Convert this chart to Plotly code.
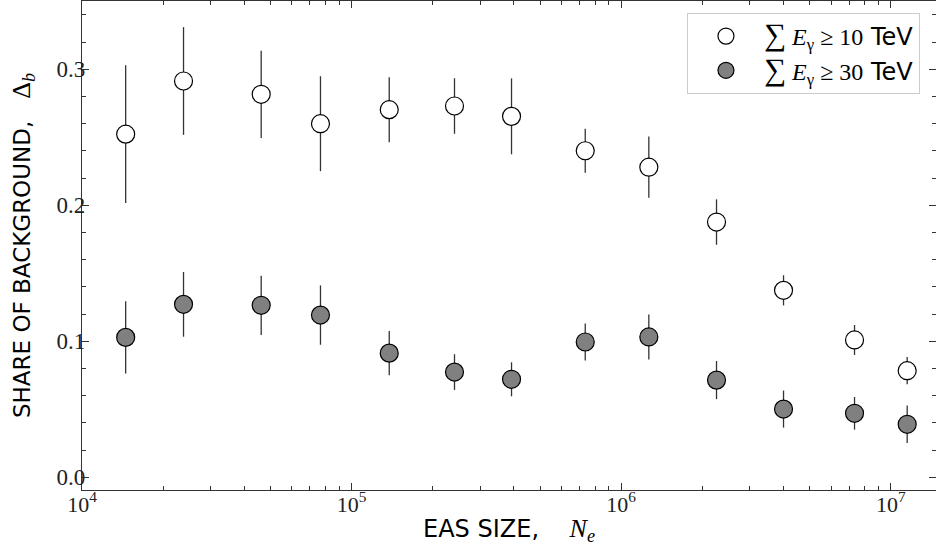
import plotly.graph_objects as go

# EAS size N_e (bin centres)
ne = [1.452e4, 2.38e4, 4.62e4, 7.665e4, 1.379e5, 2.408e5, 3.919e5,
      7.355e5, 1.266e6, 2.257e6, 4.0e6, 7.335e6, 1.15e7]

# share of background, sum E_gamma >= 10 TeV
share10 = [0.2523, 0.2914, 0.2816, 0.2600, 0.2703, 0.2730, 0.2654,
           0.2401, 0.2280, 0.1877, 0.1375, 0.1010, 0.0784]
err10 = [0.0506, 0.0396, 0.0321, 0.0349, 0.0239, 0.0204, 0.0279,
         0.0162, 0.0225, 0.0167, 0.0111, 0.0110, 0.0100]

# share of background, sum E_gamma >= 30 TeV
share30 = [0.1029, 0.1272, 0.1265, 0.1193, 0.0913, 0.0774, 0.0721,
           0.0995, 0.1032, 0.0715, 0.0502, 0.0471, 0.0390]
err30 = [0.0265, 0.0238, 0.0218, 0.0218, 0.0163, 0.0131, 0.0125,
         0.0136, 0.0165, 0.0140, 0.0136, 0.0120, 0.0138]

x_major = [1e4, 1e5, 1e6, 1e7]
x_major_text = ["10<sup>4</sup>", "10<sup>5</sup>", "10<sup>6</sup>", "10<sup>7</sup>"]
y_major = [0.0, 0.1, 0.2, 0.3]
y_major_text = ["0.0", "0.1", "0.2", "0.3"]

x_minor = [m * 10 ** e for e in range(4, 8) for m in range(2, 10)]
y_minor = [round(0.02 * i, 2) for i in range(0, 18)]

SERIF = "Liberation Serif"
SANS = "DejaVu Sans"
AX = "#333333"


def leg(v):
    return ('<span style="font-family:Liberation Serif">'
            '<span style="font-size:31px">∑</span> <i>E</i><sub>γ</sub> ≥ ' + v +
            '</span> TeV')


fig = go.Figure()
fig.add_trace(go.Scatter(
    x=ne, y=share10, mode="markers", name=leg("10"), legendgroup="a",
    marker=dict(symbol="circle", size=18, color="white",
                line=dict(color="black", width=1.2)),
    error_y=dict(type="data", array=err10, visible=True, width=0,
                 thickness=1.3, color=AX),
))
fig.add_trace(go.Scatter(
    x=ne, y=share30, mode="markers", name=leg("30"), legendgroup="b",
    marker=dict(symbol="circle", size=18, color="#808080",
                line=dict(color="black", width=1.2)),
    error_y=dict(type="data", array=err30, visible=True, width=0,
                 thickness=1.3, color=AX),
))

fig.update_layout(
    width=936, height=554,
    margin=dict(l=82, r=0, t=1, b=64, pad=0),
    paper_bgcolor="white", plot_bgcolor="white",
    font=dict(family=SANS, size=21, color="black"),
    showlegend=True,
    legend=dict(x=0.7084, y=0.9755, xanchor="left", yanchor="top",
                bgcolor="white", bordercolor="#cccccc", borderwidth=1,
                font=dict(family=SANS, size=24, color="black"),
                itemwidth=66, traceorder="grouped", tracegroupgap=0),
    xaxis=dict(
        type="log", range=[4, 7.1676], autorange=False,
        showline=True, linecolor=AX, linewidth=1.2, mirror="allticks",
        ticks="inside", ticklen=7, tickwidth=1, tickcolor=AX,
        tickmode="array", tickvals=x_major, ticktext=x_major_text,
        tickfont=dict(family=SERIF, size=22, color="#222"),
        ticklabelstandoff=-6,
        showgrid=False, zeroline=False, automargin=False,
        minor=dict(ticks="inside", ticklen=4, tickwidth=1, tickcolor=AX,
                   tickmode="array", tickvals=x_minor, showgrid=False),
        title=dict(text='EAS SIZE,    <span style="font-family:Liberation Serif;font-size:26px"><i>N</i><sub><i>e</i></sub></span>',
                   font=dict(family=SANS, size=24, color="black"), standoff=4),
    ),
    yaxis=dict(
        range=[-0.0093, 0.3502], autorange=False,
        showline=True, linecolor=AX, linewidth=1.2, mirror="allticks",
        ticks="inside", ticklen=7, tickwidth=1, tickcolor=AX,
        tickmode="array", tickvals=y_major, ticktext=y_major_text,
        tickfont=dict(family=SERIF, size=23, color="#222"),
        ticklabelstandoff=-9,
        showgrid=False, zeroline=False, automargin=False,
        minor=dict(ticks="inside", ticklen=4, tickwidth=1, tickcolor=AX,
                   tickmode="array", tickvals=y_minor, showgrid=False),
        title=dict(text='SHARE OF BACKGROUND,   <span style="font-family:Liberation Serif;font-size:26px">Δ<sub><i>b</i></sub></span>',
                   font=dict(family=SANS, size=23, color="black"), standoff=19),
    ),
)

fig.write_html("out.html", config={"displayModeBar": False},
               post_script="document.body.style.margin='0';document.body.style.overflow='hidden';")
